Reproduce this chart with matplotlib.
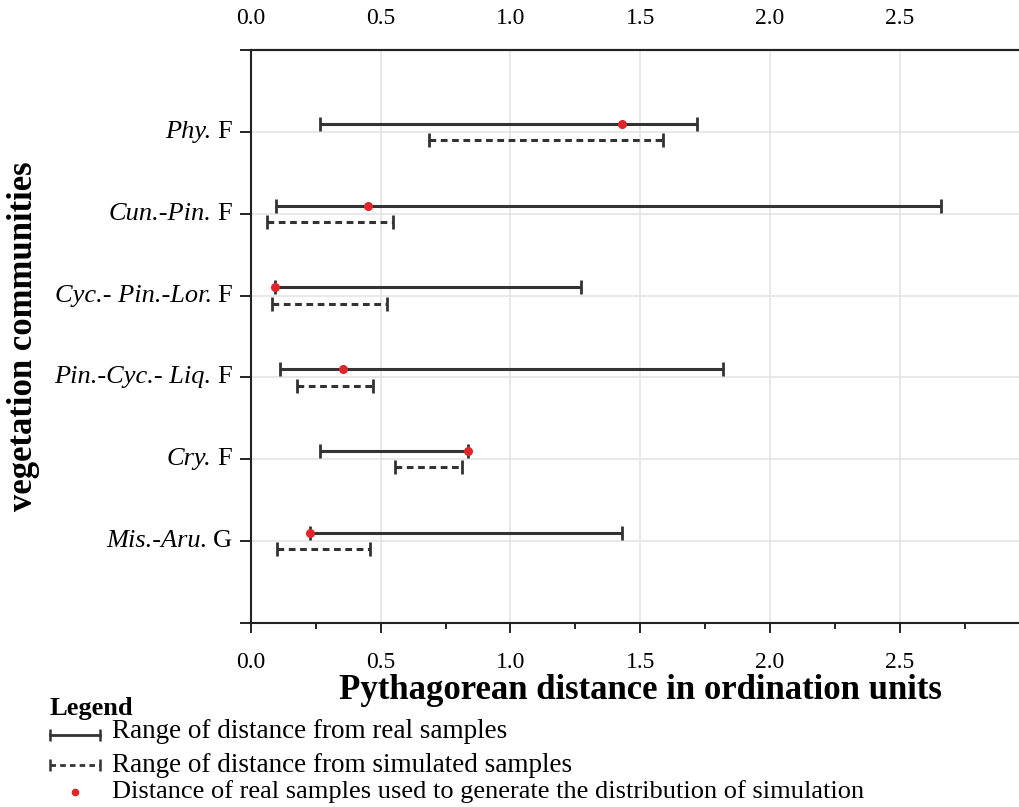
import numpy as np
import matplotlib.pyplot as plt
from matplotlib.ticker import MultipleLocator
from matplotlib.transforms import blended_transform_factory

plt.rcParams['font.family'] = ['Liberation Serif', 'DejaVu Serif']

# data (top to bottom)
names_it = ['Phy.', 'Cun.-Pin.', 'Cyc.- Pin.-Lor.', 'Pin.-Cyc.- Liq.', 'Cry.', 'Mis.-Aru.']
names_rm = ['F', 'F', 'F', 'F', 'F', 'G']
real_lo = [0.265, 0.095, 0.092, 0.113, 0.265, 0.229]
real_hi = [1.72, 2.66, 1.27, 1.82, 0.837, 1.43]
sim_lo = [0.686, 0.063, 0.081, 0.178, 0.556, 0.099]
sim_hi = [1.587, 0.547, 0.525, 0.471, 0.812, 0.459]
real_used = [1.43, 0.452, 0.092, 0.356, 0.837, 0.229]
xticks = [0, 0.5, 1.0, 1.5, 2.0, 2.5]

ypos = np.arange(len(names_it), 0, -1)  # 6..1
off = 0.1

fig = plt.figure(figsize=(10.2, 8.07), dpi=100)
ax = fig.add_axes([251 / 1020, 1 - 623 / 807, 778.5 / 1020, 573 / 807])

dark = '#333333'
ax.hlines(ypos + off, real_lo, real_hi, colors=dark, lw=2.2, zorder=3)
ax.plot(real_lo, ypos + off, ls='none', marker='|', ms=10, mew=2, color=dark, zorder=3)
ax.plot(real_hi, ypos + off, ls='none', marker='|', ms=10, mew=2, color=dark, zorder=3)

ax.hlines(ypos - off, sim_lo, sim_hi, colors=dark, lw=2.2, linestyles=(0, (2.2, 1.5)), zorder=3)
ax.plot(sim_lo, ypos - off, ls='none', marker='|', ms=10, mew=2, color=dark, zorder=3)
ax.plot(sim_hi, ypos - off, ls='none', marker='|', ms=10, mew=2, color=dark, zorder=3)

ax.plot(real_used, ypos + off, ls='none', marker='o', ms=5.5, color='#e0252a', zorder=4)

ax.set_xlim(0, 3)
ax.set_ylim(0, 7)
ax.set_yticks(range(0, 8))
ax.set_yticklabels([])
ax.set_xticks(xticks)
ax.set_xticklabels(['%.1f' % v for v in xticks], fontsize=17)
ax.xaxis.set_minor_locator(MultipleLocator(0.25))
ax.tick_params(axis='x', which='major', direction='out', length=7, width=1.2, pad=14, top=False)
ax.tick_params(axis='x', which='minor', direction='out', length=4, width=1.2, top=False)
ax.tick_params(axis='y', direction='out', length=8, width=1.2, right=False)

top = ax.secondary_xaxis('top')
top.set_xticks(xticks)
top.set_xticklabels(['%.1f' % v for v in xticks], fontsize=17)
top.tick_params(length=0, pad=15)
top.spines['top'].set_linewidth(1.5)
top.spines['top'].set_color('#222222')

# category labels: italic part + upright letter
tr = blended_transform_factory(ax.transAxes, ax.transData)
for y, it, rm in zip(ypos, names_it, names_rm):
    t = ax.text(-19 / 778.5, y, rm, transform=tr, ha='right', va='center', fontsize=19)
    ax.annotate(it, xy=(0, 0), xycoords=t, xytext=(-4, 0), textcoords='offset points',
                ha='right', va='bottom', fontsize=19, fontstyle='italic')

ax.grid(True, color='#e4e4e4', lw=1.2, zorder=0)
ax.set_axisbelow(True)
for s in ax.spines.values():
    s.set_linewidth(1.5)
    s.set_color('#222222')
ax.spines['right'].set_visible(False)

ax.set_xlabel('Pythagorean distance in ordination units', fontsize=25, fontweight='bold')
ax.xaxis.set_label_coords(0.5, -(674 - 623) / 573)
ax.set_ylabel('vegetation communities', fontsize=25, fontweight='bold')
ax.yaxis.set_label_coords(-(251 - 40) / 778.5, 0.5)

# legend drawn in pixel coordinates
lax = fig.add_axes([0, 0, 1, 1])
lax.set_xlim(0, 1020)
lax.set_ylim(807, 0)
lax.axis('off')
lax.patch.set_visible(False)
lax.text(50, 709, 'Legend', fontsize=19, fontweight='bold', va='center')
lax.plot([50, 100], [735, 735], color=dark, lw=2)
lax.plot([50, 100], [735, 735], ls='none', marker='|', ms=9, mew=1.8, color=dark)
lax.plot([50, 100], [765, 765], color=dark, lw=2, ls=(0, (2, 1.5)))
lax.plot([50, 100], [765, 765], ls='none', marker='|', ms=9, mew=1.8, color=dark)
lax.plot([75], [792], ls='none', marker='o', ms=4.5, color='#e0252a')
lax.text(112, 731, 'Range of distance from real samples', fontsize=19.5, va='center')
lax.text(112, 765, 'Range of distance from simulated samples', fontsize=19.5, va='center')
lax.text(112, 792, 'Distance of real samples used to generate the distribution of simulation',
         fontsize=19, va='center')

fig.savefig('out.png', dpi=100)
